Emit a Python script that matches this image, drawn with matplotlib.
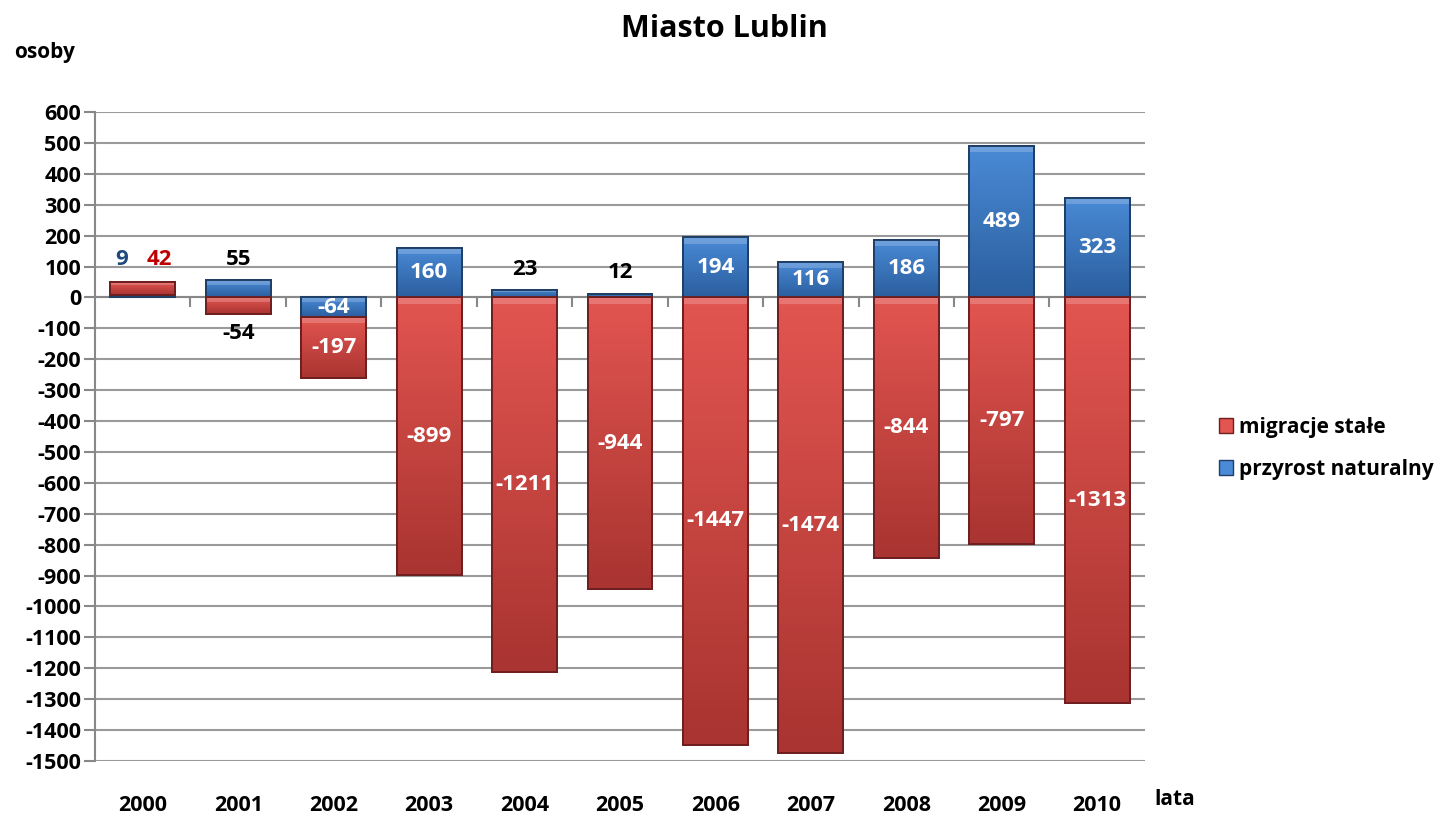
import numpy as np
import matplotlib.pyplot as plt
import matplotlib.transforms as mtransforms
from matplotlib.colors import LinearSegmentedColormap
from matplotlib.patches import Patch

plt.rcParams['font.family'] = ['Open Sans', 'DejaVu Sans']
plt.rcParams['font.weight'] = 'bold'
plt.rcParams['axes.unicode_minus'] = False

# data
years = ['2000', '2001', '2002', '2003', '2004', '2005',
         '2006', '2007', '2008', '2009', '2010']
przyrost = [9, 55, -64, 160, 23, 12, 194, 116, 186, 489, 323]
migracje = [42, -54, -197, -899, -1211, -944, -1447, -1474, -844, -797, -1313]

red_top, red_bot = '#e25550', '#a93431'
blue_top, blue_bot = '#4a8ad6', '#2b5f9f'

fig = plt.figure(figsize=(14.49, 8.15), dpi=100)
ax = fig.add_axes([0.0656, 0.0663, 0.7245, 0.7963])

x = np.arange(len(years))
w = 0.68
pos_base = np.zeros(len(years))
neg_base = np.zeros(len(years))


def stack(vals):
    vals = np.array(vals, dtype=float)
    bottoms = np.where(vals >= 0, pos_base, neg_base)
    pos_base[:] += np.where(vals >= 0, vals, 0)
    neg_base[:] += np.where(vals < 0, vals, 0)
    return bottoms


b_blue = stack(przyrost)
b_red = stack(migracje)


def draw(vals, bottoms, c_top, c_bot, edge):
    cmap = LinearSegmentedColormap.from_list('g', [c_bot, c_top])
    bars = ax.bar(x, vals, w, bottom=bottoms, color=c_top, edgecolor=edge,
                  linewidth=1.2, zorder=3)
    for r in bars:
        x0, y0 = r.get_x(), r.get_y()
        h = r.get_height()
        ylo, yhi = min(y0, y0 + h), max(y0, y0 + h)
        grad = np.linspace(0, 1, 50).reshape(-1, 1)
        im = ax.imshow(grad, cmap=cmap, origin='lower', aspect='auto',
                       extent=(x0, x0 + r.get_width(), ylo, yhi), zorder=3.5)
        im.set_clip_path(r)
        # lighter top bevel
        bev = min(20.0, (yhi - ylo) * 0.25)
        ax.fill_between([x0, x0 + r.get_width()], yhi - bev, yhi,
                        color='white', alpha=0.2, lw=0, zorder=3.6)
        ax.add_patch(plt.Rectangle((x0, ylo), r.get_width(), yhi - ylo,
                                   fill=False, edgecolor=edge, lw=1.4,
                                   zorder=3.7))
    return bars


draw(przyrost, b_blue, blue_top, blue_bot, '#1f3f66')
draw(migracje, b_red, red_top, red_bot, '#6e1f1f')

ax.set_xlim(-0.5, len(years) - 0.5)
ax.set_ylim(-1500, 600)
ax.set_yticks(np.arange(-1500, 601, 100))
ax.tick_params(axis='y', labelsize=15.5, length=8, color='#888888', width=1.5,
               pad=2)
for lab in ax.get_yticklabels():
    lab.set_fontweight('bold')
ax.grid(axis='y', color='#9a9a9a', lw=1.5, zorder=0)
ax.set_axisbelow(True)

for s in ['top', 'right']:
    ax.spines[s].set_visible(False)
ax.spines['left'].set_color('#888888')
ax.spines['left'].set_linewidth(1.5)
ax.spines['bottom'].set_position(('data', 0))
ax.spines['bottom'].set_color('#888888')
ax.spines['bottom'].set_linewidth(1.5)
ax.set_xticks(np.arange(0.5, len(years) - 0.5, 1))
ax.set_xticklabels([])
ax.tick_params(axis='x', length=7, color='#888888', width=1.5, direction='out')

trans = mtransforms.blended_transform_factory(ax.transData, ax.transAxes)
for i, y in enumerate(years):
    ax.text(i, -0.068, y, transform=trans, ha='center', va='center',
            fontsize=15.5, fontweight='bold')

# value labels
fs = 16
ax.annotate('9', (0, b_red[0] + migracje[0]), xytext=(-15, 16),
            textcoords='offset points', ha='center', va='center',
            fontsize=fs, fontweight='bold', color='#1f497d', zorder=5)
ax.annotate('42', (0, b_red[0] + migracje[0]), xytext=(12, 16),
            textcoords='offset points', ha='center', va='center',
            fontsize=fs, fontweight='bold', color='#c00000', zorder=5)
for i in range(1, len(years)):
    for vals, bots in ((przyrost, b_blue), (migracje, b_red)):
        v = vals[i]
        top = bots[i] + v
        if abs(v) < 60:
            dy = 15 if v > 0 else -14
            ax.annotate(str(v), (i, top), xytext=(0, dy),
                        textcoords='offset points', ha='center', va='center',
                        fontsize=fs, fontweight='bold', color='black', zorder=5)
        else:
            ax.text(i, bots[i] + v / 2, str(v), ha='center', va='center',
                    fontsize=fs, fontweight='bold', color='white', zorder=5)

fig.text(0.5, 0.965, 'Miasto Lublin', ha='center', va='center',
         fontsize=22, fontweight='bold')
fig.text(0.01, 0.936, 'osoby', ha='left', va='center',
         fontsize=15, fontweight='bold')
fig.text(0.797, 0.019, 'lata', ha='left', va='center',
         fontsize=15, fontweight='bold')

handles = [Patch(facecolor=red_top, edgecolor='#6e1f1f'),
           Patch(facecolor=blue_top, edgecolor='#1f3f66')]
fig.legend(handles, ['migracje stałe', 'przyrost naturalny'],
           loc='center left', bbox_to_anchor=(0.828, 0.45), frameon=False,
           handlelength=0.7, handleheight=0.7,
           handletextpad=0.3, labelspacing=1.0,
           prop={'weight': 'bold', 'size': 15})

fig.savefig('out.png', dpi=100)
